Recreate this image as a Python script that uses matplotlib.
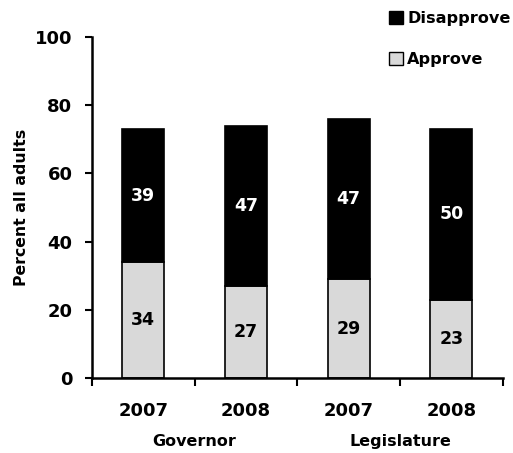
import matplotlib
matplotlib.use("Agg")
import matplotlib.pyplot as plt
from matplotlib.patches import Patch

years = ["2007", "2008", "2007", "2008"]
groups = ["Governor", "Legislature"]
approve = [34, 27, 29, 23]
disapprove = [39, 47, 47, 50]

plt.rcParams["font.family"] = ["DejaVu Sans"]
plt.rcParams["font.weight"] = "bold"

fig = plt.figure(figsize=(5.13, 4.53), dpi=100)
ax = fig.add_axes([0.179, 0.1656, 0.801, 0.7525])

x = list(range(len(years)))
w = 0.41
ax.bar(x, approve, width=w, color="#d9d9d9", edgecolor="black", linewidth=1.2, zorder=2)
ax.bar(x, disapprove, width=w, bottom=approve, color="black", edgecolor="black", linewidth=1.2, zorder=2)

for xi, a, d in zip(x, approve, disapprove):
    ax.text(xi, a / 2, str(a), ha="center", va="center", fontsize=12.5, fontweight="bold", color="black")
    ax.text(xi, a + d / 2, str(d), ha="center", va="center", fontsize=12.5, fontweight="bold", color="white")

ax.set_xlim(-0.5, len(years) - 0.5)
ax.set_ylim(0, 100)
ax.set_yticks(range(0, 101, 20))
ax.tick_params(axis="y", labelsize=13, direction="out", length=5, width=1.5, pad=9)
ax.set_xticks([i - 0.5 for i in range(len(years) + 1)])
ax.set_xticklabels([])
ax.tick_params(axis="x", direction="out", length=6, width=1.5)
for lbl in ax.get_yticklabels():
    lbl.set_fontweight("bold")

for xi, yr in zip(x, years):
    ax.text(xi, -7, yr, ha="center", va="top", fontsize=13, fontweight="bold", clip_on=False)
for gi, g in enumerate(groups):
    ax.text(2 * gi + 0.5, -16.5, g, ha="center", va="top", fontsize=11.5, fontweight="bold", clip_on=False)

ax.set_ylabel("Percent all adults", fontsize=11.3, fontweight="bold", labelpad=4)

for s in ["top", "right"]:
    ax.spines[s].set_visible(False)
ax.spines["left"].set_linewidth(1.8)
ax.spines["bottom"].set_linewidth(1.8)

handles = [Patch(facecolor="black", edgecolor="black", label="Disapprove"),
           Patch(facecolor="#d9d9d9", edgecolor="black", label="Approve")]
fig.legend(handles=handles, loc="upper left", bbox_to_anchor=(0.758, 0.976), frameon=False,
           prop={"weight": "bold", "size": 11.6}, handlelength=0.85, handleheight=0.85,
           handletextpad=0.3, labelspacing=1.6, borderaxespad=0, borderpad=0)

fig.savefig("out.png", dpi=100)
